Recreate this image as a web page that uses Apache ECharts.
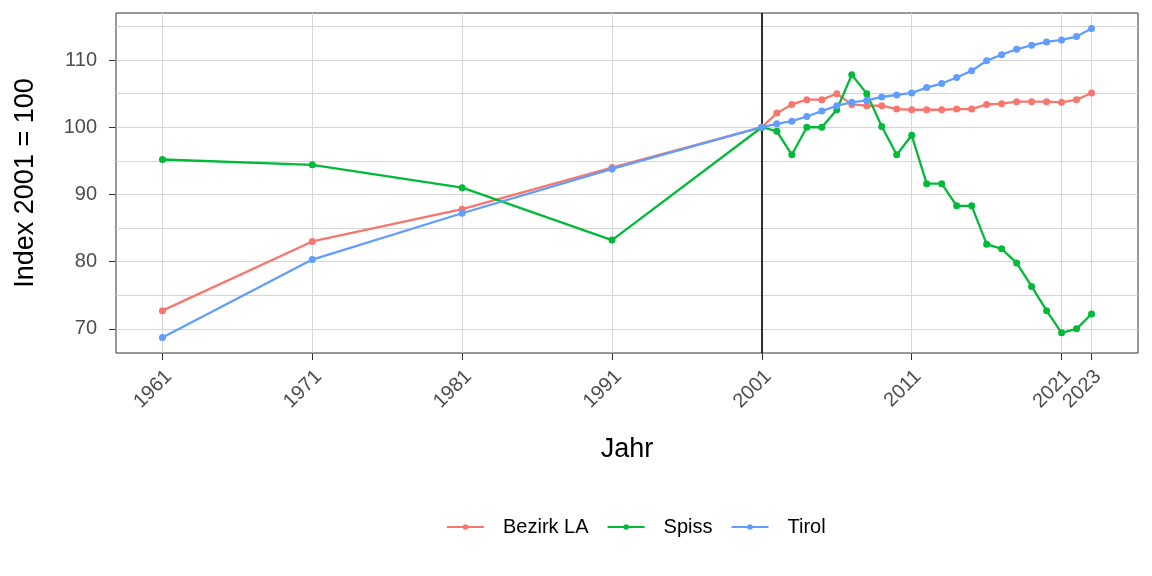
<!DOCTYPE html>
<html>
<head>
<meta charset="utf-8">
<script src="https://cdn.jsdelivr.net/npm/echarts@6/dist/echarts.min.js"></script>
<style>html,body{margin:0;padding:0;background:#fff;}#c{width:1152px;height:576px;}</style>
</head>
<body>
<div id="c"></div>
<script>
const years = [1961,1971,1981,1991,2001,2002,2003,2004,2005,2006,2007,2008,2009,2010,2011,2012,2013,2014,2015,2016,2017,2018,2019,2020,2021,2022,2023];
const bezirkLA = [72.7,83.0,87.8,94.0,100,102.1,103.4,104.1,104.1,105.0,103.4,103.2,103.2,102.7,102.6,102.6,102.6,102.7,102.7,103.4,103.5,103.8,103.8,103.8,103.7,104.1,105.1];
const spiss = [95.2,94.4,91.0,83.2,100,99.4,95.9,100.0,100.0,102.6,107.8,105.0,100.1,95.9,98.8,91.6,91.6,88.3,88.3,82.6,81.9,79.8,76.3,72.7,69.4,70.0,72.2];
const tirol = [68.7,80.3,87.2,93.8,100,100.5,100.9,101.6,102.4,103.2,103.7,104.0,104.5,104.8,105.1,105.9,106.5,107.4,108.4,109.9,110.8,111.6,112.2,112.7,113.0,113.5,114.7];
const xTicks = [1961,1971,1981,1991,2001,2011,2021,2023];
const yTicks = [70,80,90,100,110];
const yMinorTicks = [75,85,95,105,115];
const refYear = 2001;

const FONT = 'Arial, "Liberation Sans", sans-serif';
const zip = (a) => years.map((y,i)=>[y,a[i]]);
const mk = (name, color, data, extra) => Object.assign({
  name, type:'line', data: zip(data), color,
  symbol:'circle', symbolSize:7, showSymbol:true,
  lineStyle:{width:2.3, color}, itemStyle:{color},
  emphasis:{disabled:true}, animation:false, z:3
}, extra||{});

const chart = echarts.init(document.getElementById('c'), null, {renderer:'canvas'});
chart.setOption({
  backgroundColor:'#fff',
  animation:false,
  grid:{left:116, right:14, top:13, bottom:223, show:true, borderColor:'#333333', borderWidth:1, backgroundColor:'transparent', containLabel:false},
  xAxis:{
    type:'value', min:1957.9, max:2026.1,
    name:'Jahr', nameLocation:'middle', nameGap:83,
    nameTextStyle:{fontFamily:FONT, fontSize:27, color:'#000'},
    axisLine:{show:false},
    axisTick:{show:true, length:7, lineStyle:{color:'#333333'}, customValues:xTicks},
    axisLabel:{customValues:xTicks, rotate:45, formatter:(v)=>String(v),
      fontFamily:FONT, fontSize:20, color:'#4d4d4d', margin:7,
      align:'right', verticalAlign:'top', padding:[4,5,0,0]},
    splitLine:{show:true, lineStyle:{color:'#d6d6d6', width:1}}
  },
  yAxis:[{
    type:'value', min:66.4, max:117.0,
    name:'Index 2001 = 100', nameLocation:'middle', nameGap:77,
    nameTextStyle:{fontFamily:FONT, fontSize:27, color:'#000'},
    axisLine:{show:false},
    axisTick:{show:true, length:7, lineStyle:{color:'#333333'}, customValues:yTicks},
    axisLabel:{customValues:yTicks, fontFamily:FONT, fontSize:20, color:'#4d4d4d', margin:19},
    splitLine:{show:true, lineStyle:{color:'#d6d6d6', width:1}}
  },{
    type:'value', min:66.4, max:117.0, position:'left',
    axisLine:{show:false},
    axisTick:{show:false, customValues:yMinorTicks},
    axisLabel:{show:false, customValues:yMinorTicks},
    splitLine:{show:true, lineStyle:{color:'#d6d6d6', width:1}}
  }],
  legend:{
    top:517, left:446, padding:0, itemWidth:37, itemHeight:7, itemGap:18,
    textStyle:{fontFamily:FONT, fontSize:20, color:'#000', padding:[0,0,0,14]},
    data:['Bezirk LA','Spiss','Tirol']
  },
  series:[
    mk('Bezirk LA', '#F8766D', bezirkLA),
    mk('Spiss', '#00BA38', spiss),
    mk('Tirol', '#619CFF', tirol, {
      markLine:{silent:true, symbol:['none','none'], label:{show:false},
        lineStyle:{color:'#000', width:1.6, type:'solid'}, emphasis:{disabled:true},
        data:[{xAxis:refYear}], z:2}
    })
  ]
});
</script>
</body>
</html>
